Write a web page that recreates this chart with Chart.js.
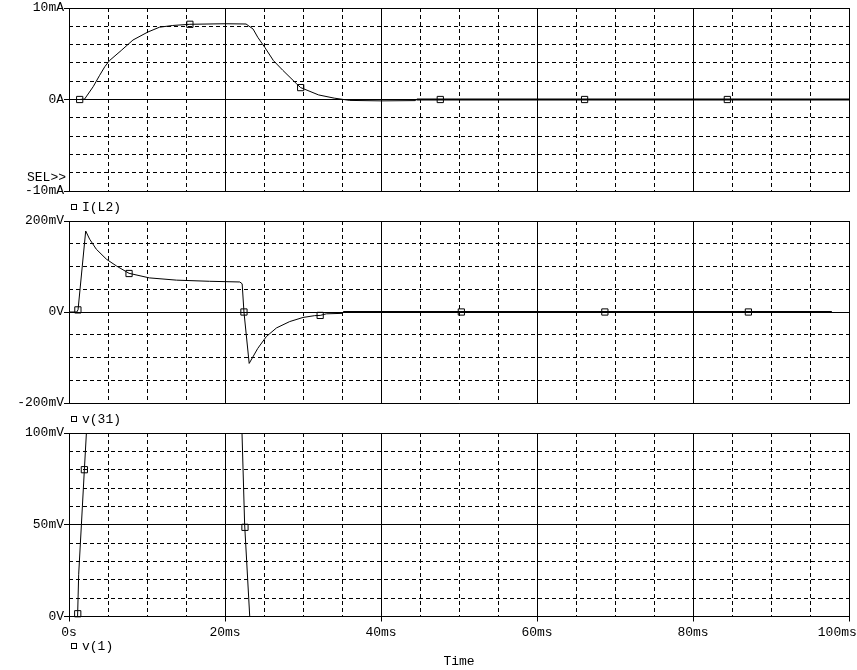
<!DOCTYPE html>
<html><head><meta charset="utf-8">
<script src="https://cdn.jsdelivr.net/npm/chart.js@4.4.1/dist/chart.umd.min.js"></script>
<style>
html,body{margin:0;padding:0;background:#fff;width:857px;height:670px;overflow:hidden;position:relative;}
canvas{position:absolute;left:0;}
.t{position:absolute;font-family:"Liberation Mono","Courier New",monospace;font-size:13px;line-height:13px;color:#000;white-space:pre;}
.sq{position:absolute;width:4px;height:4px;border:1px solid #000;}
</style></head><body>
<canvas id="c1" width="857" height="200" style="top:0px"></canvas>
<canvas id="c2" width="857" height="212" style="top:200px"></canvas>
<canvas id="c3" width="857" height="258" style="top:412px"></canvas>
<div class="t" style="left:27px;top:171px">SEL&gt;&gt;</div>
<div class="sq" style="left:71px;top:204px"></div><div class="t" style="left:82px;top:201px">I(L2)</div>
<div class="sq" style="left:71px;top:416px"></div><div class="t" style="left:82px;top:413px">v(31)</div>
<div class="sq" style="left:71px;top:643px"></div><div class="t" style="left:82px;top:640px">v(1)</div>
<script>
// ---------- data (time in ms) ----------
const tIL2 = [0, 1.4, 2.0, 3.1, 3.9, 4.6, 5.2, 6.7, 8.2, 10.1, 11.6, 13.3, 15.5, 20.0, 22.7, 23.6, 24.2, 25.1, 26.2, 27.4, 29.2, 29.7, 32.0, 34.0, 36.0, 40.0, 44.4, 44.6, 100];
const iL2  = [0, 0, 0.05, 1.4, 2.6, 3.6, 4.26, 5.36, 6.5, 7.37, 7.9, 8.09, 8.22, 8.28, 8.25, 7.7, 6.8, 5.7, 4.26, 3.2, 1.7, 1.3, 0.5, 0.15, -0.1, -0.15, -0.12, 0, 0];
const tIL2Marks = [1.37, 15.5, 29.7, 47.6, 66.1, 84.4];
const iL2Marks  = [0, 8.22, 1.3, 0, 0, 0];
const tIL2Thick = 44.5;

const tV31 = [0, 1.0, 1.16, 2.14, 2.65, 3.5, 4.8, 6.1, 7.7, 10.3, 13.8, 18.0, 21.9, 22.2, 22.43, 23.1, 24.2, 25.3, 26.6, 28.3, 30.0, 31.5, 32.2, 33.0, 35.0, 35.15, 97.8];
const v31  = [0, 0, 5, 178, 160, 138, 116, 101, 85, 75, 70, 67.5, 66, 62, 0, -113, -80, -54, -35, -21, -12, -8, -7.5, -4, -3, 0, 0];
const tV31Marks = [1.14, 7.7, 22.43, 32.2, 50.3, 68.7, 87.1];
const v31Marks  = [4.6, 84.6, 0, -7.5, 0, 0, 0];
const tV31Thick = 35.1;

const tV1 = [0, 1.1, 1.24, 1.59, 1.97, 2.23, 2.6, 21.8, 22.18, 22.52, 23.17, 100];
const v1  = [0, 0, 23, 50, 80, 100, 140, 140, 100, 50, 0, 0];
const tV1Marks = [1.12, 1.97, 22.56];
const v1Marks  = [1.5, 80, 48.6];

// ---------- tick labels ----------
const xTickValues = [0, 20, 40, 60, 80, 100];
const xTickLabels = ['0s', '20ms', '40ms', '60ms', '80ms', '100ms'];
const yTicksIL2 = [-10, 0, 10];   const yLabelsIL2 = ['-10mA', '0A', '10mA'];
const yTicksV31 = [-200, 0, 200]; const yLabelsV31 = ['-200mV', '0V', '200mV'];
const yTicksV1  = [0, 50, 100];   const yLabelsV1  = ['0V', '50mV', '100mV'];

const FONT = {family: '"Liberation Mono", "Courier New", monospace', size: 13};
const BLACK = '#000';

function xy(t, v) { return t.map((x, i) => ({x: x, y: v[i]})); }
function fixH(h) { return s => { s.height = h; s.paddingLeft = 0; s.paddingRight = 0; }; }
function fixW(w) { return s => { s.width = w; s.paddingTop = 0; s.paddingBottom = 0; }; }

function panel(id, c) {
  const yStepMinor = (c.yMax - c.yMin) / c.yDivs;
  return new Chart(document.getElementById(id), {
    type: 'line',
    data: {datasets: [
      {data: xy(c.t, c.v), borderColor: BLACK, borderWidth: 1, pointRadius: 0, pointHoverRadius: 0,
       tension: 0, fill: false, xAxisID: 'x', yAxisID: 'y',
       segment: {borderWidth: s => (c.thick !== undefined && s.p0.parsed.x >= c.thick ? 2 : 1)}},
      {data: xy(c.mt, c.mv), showLine: false, pointStyle: 'rect', pointRadius: 4.4, pointHoverRadius: 4.4,
       pointBorderColor: BLACK, pointBackgroundColor: 'rgba(0,0,0,0)', pointBorderWidth: 1,
       clip: false, xAxisID: 'x', yAxisID: 'y'}
    ]},
    options: {
      responsive: false, animation: false, devicePixelRatio: 1, events: [],
      layout: {padding: {top: c.top, left: 0, right: 8, bottom: 0}},
      plugins: {legend: {display: false}, tooltip: {enabled: false}},
      scales: {
        x: {type: 'linear', position: 'bottom', min: 0, max: 100,
            ticks: {display: false, stepSize: 5},
            grid: {color: BLACK, lineWidth: 1, drawTicks: false},
            border: {display: false, dash: [4, 3]},
            afterFit: fixH(0)},
        x2: {type: 'linear', position: 'bottom', min: 0, max: 100,
             afterBuildTicks: s => { s.ticks = xTickValues.map(v => ({value: v})); },
             ticks: {display: c.showX, autoSkip: false, maxRotation: 0, minRotation: 0, padding: 3,
                     color: BLACK, font: FONT,
                     callback: (val, i) => {
                       const k = xTickValues.indexOf(val);
                       const lab = k >= 0 ? xTickLabels[k] : '';
                       return k === xTickValues.length - 1 ? lab + '   ' : lab;
                     }},
             grid: {color: BLACK, lineWidth: 1, drawTicks: c.showX, tickLength: 5, tickColor: BLACK},
             border: {display: true, color: BLACK, width: 1},
             title: {display: c.showX, text: 'Time', color: BLACK, padding: {top: 0, bottom: 0},
                     font: {family: FONT.family, size: 13, lineHeight: 16 / 13}},
             afterFit: fixH(c.xh)},
        y: {type: 'linear', position: 'left', min: c.yMin, max: c.yMax,
            ticks: {display: false, stepSize: yStepMinor},
            grid: {color: BLACK, lineWidth: 1, drawTicks: false},
            border: {display: false, dash: [4, 3]},
            afterFit: fixW(0)},
        y2: {type: 'linear', position: 'left', min: c.yMin, max: c.yMax,
             afterBuildTicks: s => { s.ticks = c.yTicks.map(v => ({value: v})); },
             ticks: {display: true, padding: 0, color: BLACK, font: FONT, autoSkip: false,
                     callback: (val) => { const k = c.yTicks.indexOf(val); return k >= 0 ? c.yLabels[k] : ''; }},
             grid: {color: BLACK, lineWidth: 1, drawTicks: true, tickLength: 5, tickColor: BLACK},
             border: {display: true, color: BLACK, width: 1},
             afterFit: fixW(69)}
      }
    }
  });
}

panel('c1', {t: tIL2, v: iL2, mt: tIL2Marks, mv: iL2Marks, thick: tIL2Thick,
  yMin: -10, yMax: 10, yDivs: 10, yTicks: yTicksIL2, yLabels: yLabelsIL2,
  top: 8, xh: 9, showX: false});
panel('c2', {t: tV31, v: v31, mt: tV31Marks, mv: v31Marks, thick: tV31Thick,
  yMin: -200, yMax: 200, yDivs: 8, yTicks: yTicksV31, yLabels: yLabelsV31,
  top: 21, xh: 9, showX: false});
panel('c3', {t: tV1, v: v1, mt: tV1Marks, mv: v1Marks,
  yMin: 0, yMax: 100, yDivs: 10, yTicks: yTicksV1, yLabels: yLabelsV1,
  top: 21, xh: 53.5, showX: true});
</script>
</body></html>
